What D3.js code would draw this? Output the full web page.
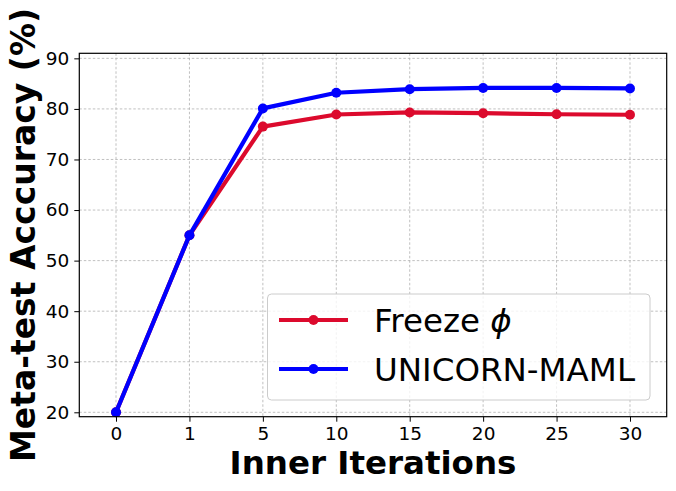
<!DOCTYPE html>
<html><head><meta charset="utf-8">
<script src="https://cdn.jsdelivr.net/npm/d3@7"></script>
<style>body{margin:0;background:#fff}text{font-family:"DejaVu Sans",sans-serif}</style>
</head><body><svg id="c" width="676" height="491"></svg>
<script>
const categories = ["0","1","5","10","15","20","25","30"];
const freezeValues = [20, 55, 76.5, 78.9, 79.3, 79.15, 78.95, 78.85];
const unicornValues = [20, 55, 80.1, 83.2, 83.9, 84.15, 84.15, 84.05];
const yTicks = [20,30,40,50,60,70,80,90];
const seriesNames = ["Freeze ", "UNICORN-MAML"];
const colors = ["#DC0A2D", "#0000FF"];

const svg = d3.select("#c");
const L=79.3, R=666.7, T=53.3, B=416.7;
const x = d3.scaleLinear().domain([-0.5, categories.length-0.5]).range([L,R]);
const y = d3.scaleLinear().domain([19.13, 91.0]).range([B,T]);

// grid
const g = svg.append("g");
g.selectAll(".vx").data(categories).join("line")
 .attr("x1",(d,i)=>x(i)).attr("x2",(d,i)=>x(i)).attr("y1",T).attr("y2",B)
 .attr("stroke","#b0b0b0").attr("stroke-width",0.8).attr("stroke-dasharray","2.5,2");
g.selectAll(".hy").data(yTicks).join("line")
 .attr("x1",L).attr("x2",R).attr("y1",d=>y(d)).attr("y2",d=>y(d))
 .attr("stroke","#b0b0b0").attr("stroke-width",0.8).attr("stroke-dasharray","2.5,2");

// axes
const xAxis = d3.axisBottom(x).tickValues(d3.range(categories.length)).tickFormat(i=>categories[i]).tickSize(5).tickPadding(5.5);
const ax = svg.append("g").attr("transform",`translate(0,${B})`).call(xAxis);
ax.select(".domain").remove();
ax.selectAll("text").attr("font-size",18.5).attr("font-family","DejaVu Sans").attr("fill","#000");
ax.selectAll("line").attr("stroke","#000").attr("stroke-width",1);
const yAxis = d3.axisLeft(y).tickValues(yTicks).tickSize(5).tickPadding(5);
const ay = svg.append("g").attr("transform",`translate(${L},0)`).call(yAxis);
ay.select(".domain").remove();
ay.selectAll("text").attr("font-size",18.5).attr("font-family","DejaVu Sans").attr("fill","#000");
ay.selectAll("line").attr("stroke","#000").attr("stroke-width",1);

// lines
const line = d3.line().x((d,i)=>x(i)).y(d=>y(d));
[freezeValues, unicornValues].forEach((vals,k)=>{
  svg.append("path").datum(vals).attr("d",line).attr("fill","none")
    .attr("stroke",colors[k]).attr("stroke-width",4.2).attr("stroke-linejoin","round").attr("stroke-linecap","round");
  svg.append("g").selectAll("circle").data(vals).join("circle")
    .attr("cx",(d,i)=>x(i)).attr("cy",d=>y(d)).attr("r",5).attr("fill",colors[k]);
});

// frame
svg.append("rect").attr("x",L).attr("y",T).attr("width",R-L).attr("height",B-T)
  .attr("fill","none").attr("stroke","#000").attr("stroke-width",1.2);

// legend
const lg = svg.append("g");
lg.append("rect").attr("x",267.5).attr("y",294).attr("width",382.5).attr("height",106).attr("rx",4)
  .attr("fill","#fff").attr("fill-opacity",0.8).attr("stroke","#cccccc").attr("stroke-width",1);
const ly = [320, 369];
seriesNames.forEach((n,k)=>{
  lg.append("line").attr("x1",279).attr("x2",348).attr("y1",ly[k]).attr("y2",ly[k]).attr("stroke",colors[k]).attr("stroke-width",4.2);
  lg.append("circle").attr("cx",313.5).attr("cy",ly[k]).attr("r",5).attr("fill",colors[k]);
  const t = lg.append("text").attr("x",374).attr("y",ly[k]+12.3).attr("font-size",32.5).attr("fill","#000").text(n);
  if(k===0) t.append("tspan").attr("font-style","italic").text("ϕ");
});

// axis labels
svg.append("text").attr("x",(L+R)/2).attr("y",474).attr("text-anchor","middle")
  .attr("font-size",32.5).attr("font-weight","bold").text("Inner Iterations");
svg.append("text").attr("transform",`translate(35,${(T+B)/2}) rotate(-90)`).attr("text-anchor","middle")
  .attr("font-size",33).attr("font-weight","bold").text("Meta-test Acccuracy (%)");
</script></body></html>
